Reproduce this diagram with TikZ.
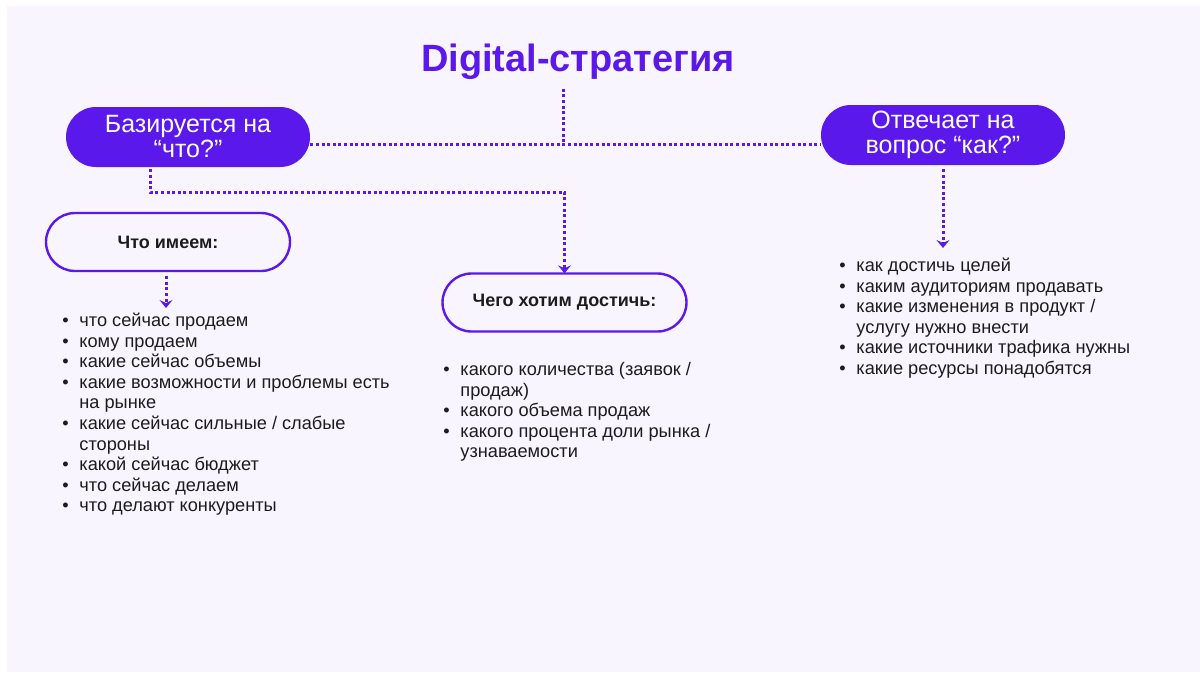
\documentclass[tikz,border=0pt]{standalone}
\usepackage{fontspec}
\setmainfont{Liberation Sans}
\usetikzlibrary{arrows.meta}
\definecolor{vio}{RGB}{91,24,235}
\definecolor{bgc}{RGB}{248,245,254}
\definecolor{txt}{RGB}{28,28,28}
\newcommand\bli{\rule{0pt}{8pt}\makebox[8.5pt][l]{•}}
\newcommand\blc{\hspace*{8.5pt}}
\begin{document}
\begin{tikzpicture}[x=0.5pt,y=-0.5pt,
  pillfill/.style={fill=vio, rounded corners=15pt, minimum width=122pt, minimum height=30pt,
    text=white, align=center, font=\fontsize{12.5}{12.5}\selectfont, inner sep=0pt},
  pillline/.style={draw=vio, line width=1.2pt, rounded corners=14.5pt, minimum width=122pt,
    minimum height=29pt, font=\bfseries\fontsize{9}{11}\selectfont, text=txt, inner sep=0pt},
  conn/.style={draw=vio, line width=1.5pt, dash pattern=on 1.5pt off 1.3pt},
  arr/.style={conn, -{Stealth[length=4pt,width=6.5pt,inset=1.5pt]}},
  listnode/.style={anchor=north west, inner sep=0pt, align=left, text=txt,
    font=\fontsize{9.1}{10.3}\selectfont}
]
\useasboundingbox (0,0) rectangle (1200,675);
\fill[bgc] (7,6) rectangle (1200,672);

\node[text=vio, font=\bfseries\fontsize{19}{22}\selectfont] (title) at (578,62) {Digital-стратегия};

\node[pillfill] (b1) at (188,137) {Базируется на\\“что?”};
\node[pillfill] (b2) at (943,135) {Отвечает на\\вопрос “как?”};
\node[pillline] (b3) at (168,242) {Что имеем:};
\node[pillline] (b4) at (564.5,302.5) {Чего хотим достичь:};

\coordinate (jn) at (563,144);
\coordinate (c1) at (150,192);
\coordinate (c2) at (564.5,192);
\coordinate (a3) at (166,308);
\coordinate (a2) at (943,248);

\draw[conn] (jn |- title.south) ++(0,2) -- (jn);
\draw[conn] (b1.east |- jn) -- (b2.west |- jn);
\draw[arr] (b1.south -| c1) ++(0,2) -- (c1) -- (c2) -- ([yshift=-0.5pt]b4.north);
\draw[arr] ([yshift=-2pt]b3.south -| a3) -- (a3);
\draw[arr] ([yshift=-2pt]b2.south) -- (a2);

\node[listnode] (l1) at (62,310) {%
\bli что сейчас продаем\\
\bli кому продаем\\
\bli какие сейчас объемы\\
\bli какие возможности и проблемы есть\\
\blc на рынке\\
\bli какие сейчас сильные / слабые\\
\blc стороны\\
\bli какой сейчас бюджет\\
\bli что сейчас делаем\\
\bli что делают конкуренты};

\node[listnode] (l2) at (443,359) {%
\bli какого количества (заявок /\\
\blc продаж)\\
\bli какого объема продаж\\
\bli какого процента доли рынка /\\
\blc узнаваемости};

\node[listnode] (l3) at (839,255) {%
\bli как достичь целей\\
\bli каким аудиториям продавать\\
\bli какие изменения в продукт /\\
\blc услугу нужно внести\\
\bli какие источники трафика нужны\\
\bli какие ресурсы понадобятся};
\end{tikzpicture}
\end{document}
